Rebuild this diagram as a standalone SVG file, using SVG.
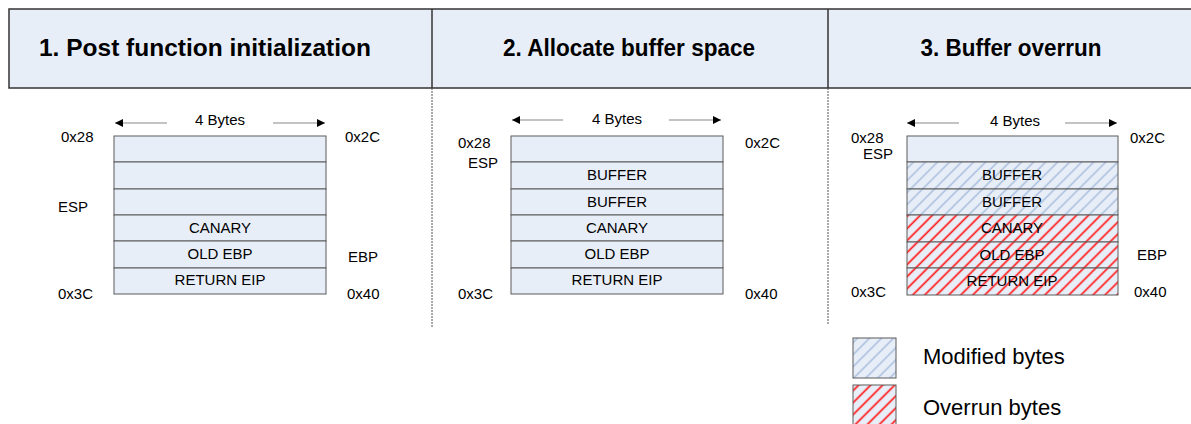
<svg xmlns="http://www.w3.org/2000/svg" width="1191" height="424" viewBox="0 0 1191 424">
<style>
text{font-family:"Liberation Sans",Arial,sans-serif;fill:#000}
.title{font-size:23px;font-weight:bold;text-anchor:middle}
.lbl{font-size:15px}
.cell{font-size:15px;text-anchor:middle}
.leg{font-size:22px}
.box{fill:#e8eef8;stroke:#5a5a5a;stroke-width:1}
.div{stroke:#555;stroke-width:1;stroke-dasharray:2,1}
.arr{stroke:#888;stroke-width:1.2;fill:none}
</style>
<defs>
<pattern id="hb" width="8.5" height="8.5" patternUnits="userSpaceOnUse" patternTransform="rotate(45)">
<rect width="8.5" height="8.5" fill="#e8eef8"/>
<line x1="4" y1="0" x2="4" y2="8.5" stroke="#aec2df" stroke-width="1.6"/>
</pattern>
<pattern id="hr" width="8.5" height="8.5" patternUnits="userSpaceOnUse" patternTransform="rotate(45)">
<rect width="8.5" height="8.5" fill="#e8eef8"/>
<line x1="4" y1="0" x2="4" y2="8.5" stroke="#ff2a2a" stroke-width="1.8"/>
</pattern>
<marker id="ah" viewBox="0 0 10 10" refX="10" refY="5" markerWidth="10" markerHeight="8" markerUnits="userSpaceOnUse" orient="auto">
<path d="M0,0 L10,5 L0,10 z" fill="#000"/>
</marker>
</defs>

<g id="header">
<rect x="9" y="9" width="1190" height="79" fill="#e8eef8" stroke="#333" stroke-width="1.5"/>
<line x1="432" y1="9" x2="432" y2="88" stroke="#333" stroke-width="1.5"/>
<line x1="828" y1="9" x2="828" y2="88" stroke="#333" stroke-width="1.5"/>
<text class="title" x="205" y="56" textLength="332" lengthAdjust="spacingAndGlyphs">1. Post function initialization</text>
<text class="title" x="629" y="56" textLength="252" lengthAdjust="spacingAndGlyphs">2. Allocate buffer space</text>
<text class="title" x="1011" y="56" textLength="181" lengthAdjust="spacingAndGlyphs">3. Buffer overrun</text>
</g>

<g id="connectors">
<line class="div" x1="432" y1="88" x2="432" y2="328"/>
<line class="div" x1="828" y1="88" x2="828" y2="325"/>
<line class="arr" x1="167" y1="123" x2="115" y2="123" marker-end="url(#ah)"/>
<line class="arr" x1="273" y1="123" x2="325" y2="123" marker-end="url(#ah)"/>
<line class="arr" x1="563" y1="120" x2="512" y2="120" marker-end="url(#ah)"/>
<line class="arr" x1="669" y1="120" x2="721" y2="120" marker-end="url(#ah)"/>
<line class="arr" x1="959" y1="123" x2="907" y2="123" marker-end="url(#ah)"/>
<line class="arr" x1="1065" y1="123" x2="1117" y2="123" marker-end="url(#ah)"/>
</g>

<g id="stack1">
<text class="cell" x="220" y="125">4 Bytes</text>
<rect class="box" x="114" y="136" width="212" height="26"/>
<rect class="box" x="114" y="162" width="212" height="27"/>
<rect class="box" x="114" y="189" width="212" height="26"/>
<rect class="box" x="114" y="215" width="212" height="26"/>
<rect class="box" x="114" y="241" width="212" height="27"/>
<rect class="box" x="114" y="268" width="212" height="26"/>
<text class="cell" x="220" y="233">CANARY</text>
<text class="cell" x="220" y="259">OLD EBP</text>
<text class="cell" x="220" y="285">RETURN EIP</text>
<text class="lbl" x="61" y="142">0x28</text>
<text class="lbl" x="345" y="142">0x2C</text>
<text class="lbl" x="58" y="212">ESP</text>
<text class="lbl" x="348" y="262">EBP</text>
<text class="lbl" x="58" y="299">0x3C</text>
<text class="lbl" x="347" y="299">0x40</text>
</g>

<g id="stack2">
<text class="cell" x="617" y="124">4 Bytes</text>
<rect class="box" x="511" y="136" width="212" height="26"/>
<rect class="box" x="511" y="162" width="212" height="27"/>
<rect class="box" x="511" y="189" width="212" height="26"/>
<rect class="box" x="511" y="215" width="212" height="26"/>
<rect class="box" x="511" y="241" width="212" height="27"/>
<rect class="box" x="511" y="268" width="212" height="26"/>
<text class="cell" x="617" y="180">BUFFER</text>
<text class="cell" x="617" y="207">BUFFER</text>
<text class="cell" x="617" y="233">CANARY</text>
<text class="cell" x="617" y="259">OLD EBP</text>
<text class="cell" x="617" y="285">RETURN EIP</text>
<text class="lbl" x="458" y="148">0x28</text>
<text class="lbl" x="468" y="168">ESP</text>
<text class="lbl" x="745" y="148">0x2C</text>
<text class="lbl" x="458" y="299">0x3C</text>
<text class="lbl" x="745" y="299">0x40</text>
</g>

<g id="stack3">
<text class="cell" x="1015" y="126">4 Bytes</text>
<rect class="box" x="907" y="136" width="211" height="26"/>
<rect class="box" x="907" y="162" width="211" height="27" style="fill:url(#hb)"/>
<rect class="box" x="907" y="189" width="211" height="26" style="fill:url(#hb)"/>
<rect class="box" x="907" y="215" width="211" height="27" style="fill:url(#hr)"/>
<rect class="box" x="907" y="242" width="211" height="26" style="fill:url(#hr)"/>
<rect class="box" x="907" y="268" width="211" height="27" style="fill:url(#hr)"/>
<text class="cell" x="1012" y="180">BUFFER</text>
<text class="cell" x="1012" y="207">BUFFER</text>
<text class="cell" x="1012" y="233">CANARY</text>
<text class="cell" x="1012" y="260">OLD EBP</text>
<text class="cell" x="1012" y="286">RETURN EIP</text>
<text class="lbl" x="851" y="143">0x28</text>
<text class="lbl" x="863" y="159">ESP</text>
<text class="lbl" x="1130" y="143">0x2C</text>
<text class="lbl" x="1137" y="260">EBP</text>
<text class="lbl" x="851" y="297">0x3C</text>
<text class="lbl" x="1134" y="297">0x40</text>
</g>

<g id="legend">
<rect class="box" x="853" y="338" width="43" height="40" style="fill:url(#hb)"/>
<rect class="box" x="853" y="385" width="43" height="45" style="fill:url(#hr)"/>
<text class="leg" x="923" y="364">Modified bytes</text>
<text class="leg" x="923" y="415">Overrun bytes</text>
</g>
</svg>
